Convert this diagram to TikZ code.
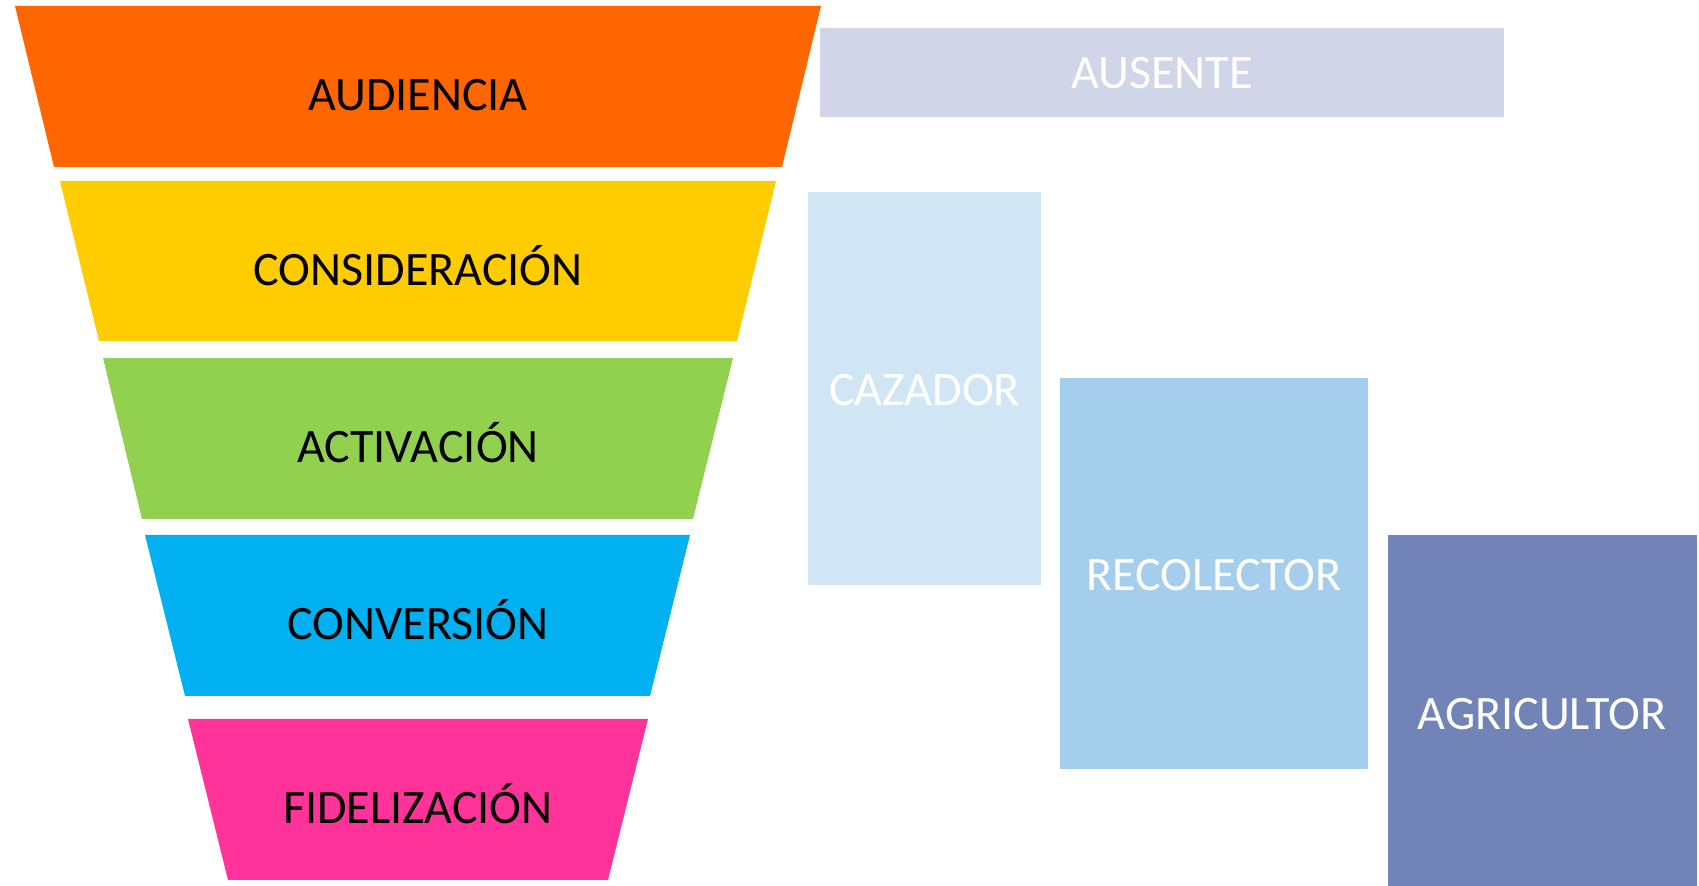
\documentclass[tikz,border=0pt]{standalone}
\usepackage{fontspec}
\setmainfont{Carlito}
\usepackage{xcolor}
\definecolor{audiencia}{HTML}{FF6600}
\definecolor{consideracion}{HTML}{FFCC00}
\definecolor{activacion}{HTML}{92D050}
\definecolor{conversion}{HTML}{00B0F0}
\definecolor{fidelizacion}{HTML}{FF3399}
\definecolor{ausente}{HTML}{D0D6E8}
\definecolor{cazador}{HTML}{D1E6F4}
\definecolor{recolector}{HTML}{A4CEEC}
\definecolor{agricultor}{HTML}{7183B7}

\begin{document}
\begin{tikzpicture}[x=0.5pt,y=-0.5pt,
    etapa/.style={anchor=base,inner sep=0pt,font=\fontsize{24}{28}\selectfont},
    perfil/.style={etapa,text=white}]
  \useasboundingbox (0,0) rectangle (1699,886);
  \begin{scope}
    % embudo
    \fill[audiencia] (15,6) -- (821,6) -- (782,167) -- (54,167) -- cycle;
    \fill[consideracion] (60,181) -- (776,181) -- (737,341) -- (99,341) -- cycle;
    \fill[activacion] (103,358) -- (733,358) -- (693,519) -- (142,519) -- cycle;
    \fill[conversion] (145,535) -- (690,535) -- (650,696) -- (185,696) -- cycle;
    \fill[fidelizacion] (188,719) -- (648,719) -- (608,880) -- (228,880) -- cycle;
    \node[etapa] (aud) at (418,111) {AUDIENCIA};
    \node[etapa] (con) at (418,286) {CONSIDERACIÓN};
    \node[etapa] (act) at (418,463) {ACTIVACIÓN};
    \node[etapa] (conv) at (418,640) {CONVERSIÓN};
    \node[etapa] (fid) at (418,824) {FIDELIZACIÓN};
  \end{scope}
  \begin{scope}
    % perfiles
    \fill[ausente] (820,28) rectangle (1504,117);
    \fill[cazador] (808,192) rectangle (1041,585);
    \fill[recolector] (1060,378) rectangle (1368,769);
    \fill[agricultor] (1388,535) rectangle (1697,886);
    \node[perfil] (aus) at (1162,89) {AUSENTE};
    \node[perfil] (caz) at (924.5,406) {CAZADOR};
    \node[perfil] (rec) at (1214,591) {RECOLECTOR};
    \node[perfil] (agr) at (1542,730) {AGRICULTOR};
  \end{scope}
\end{tikzpicture}
\end{document}
